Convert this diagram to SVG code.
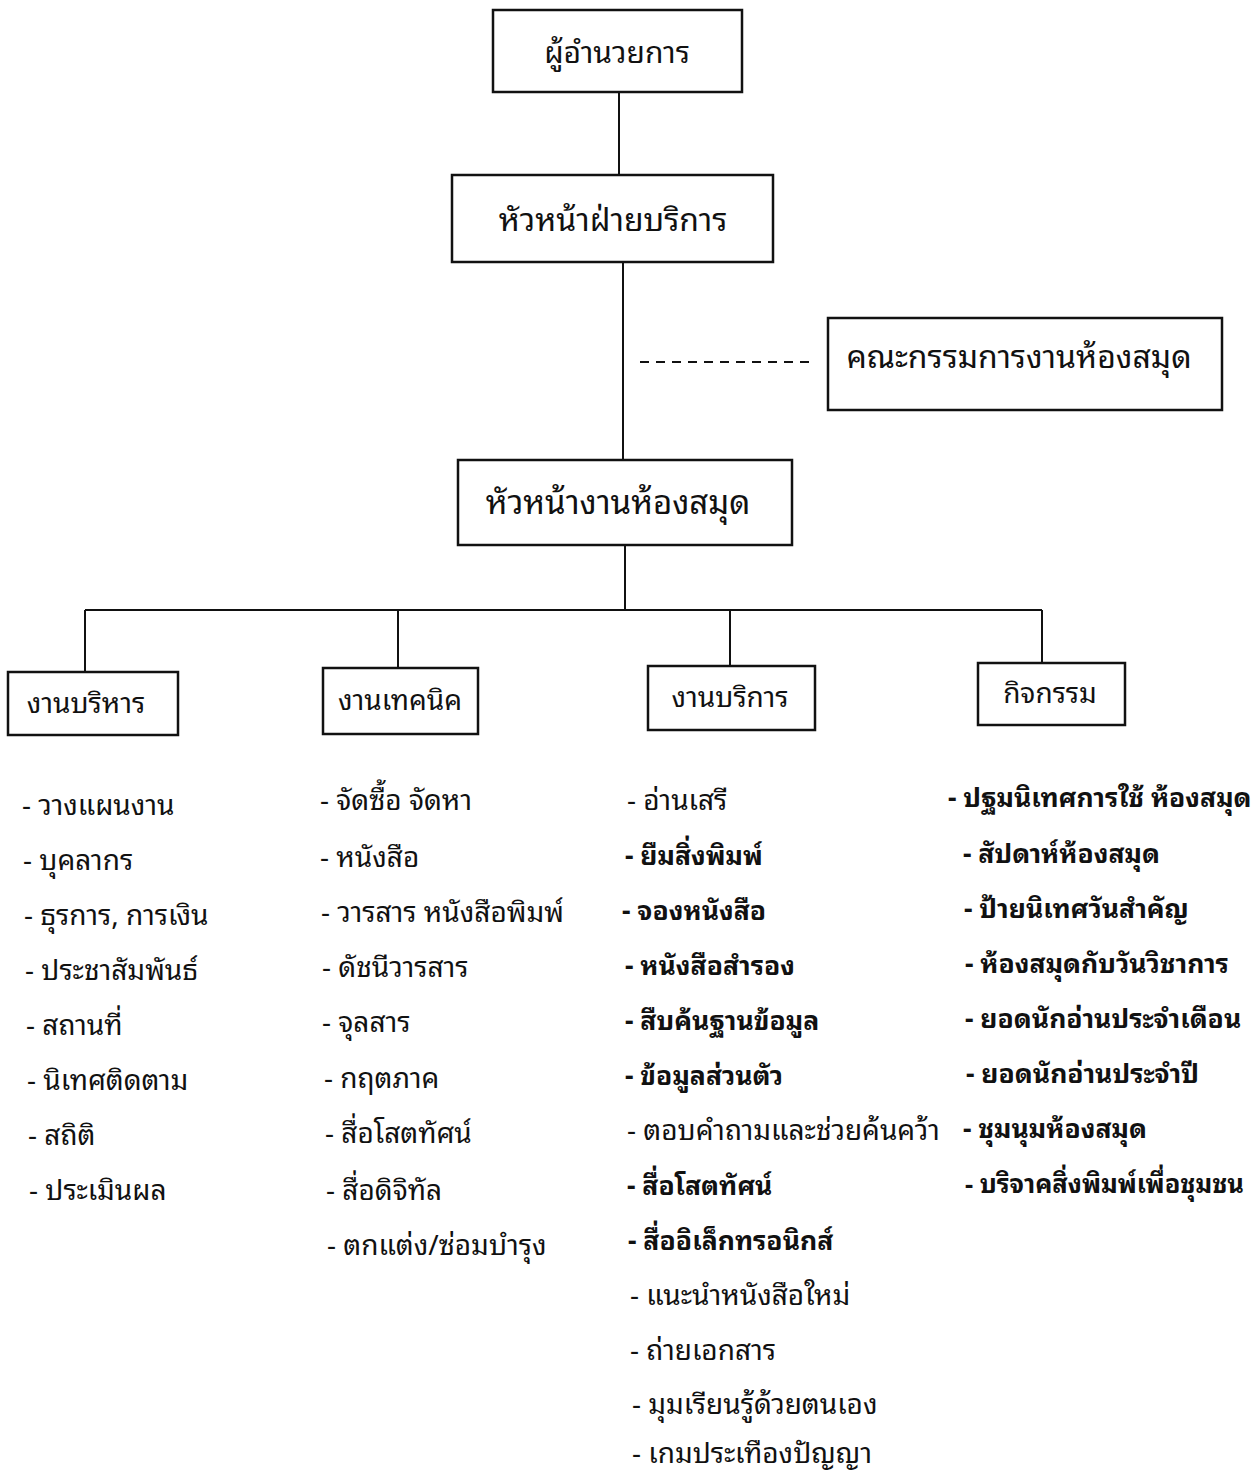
<svg xmlns="http://www.w3.org/2000/svg" width="1255" height="1474" viewBox="0 0 1255 1474">
<style>
text{font-family:"Noto Sans Thai Looped","Noto Sans Thai","Loma","Garuda","DejaVu Sans","Noto Sans",sans-serif;fill:#111}
.box{fill:#fff;stroke:#111;stroke-width:2.5}
.line{fill:none;stroke:#111;stroke-width:2}
.dash{fill:none;stroke:#111;stroke-width:2;stroke-dasharray:9 7}
.t1{font-size:32px;text-anchor:middle}
.t2{font-size:28px;text-anchor:middle}
.li{font-size:28px}
.b{font-weight:bold;font-size:26.5px}
</style>
<rect width="1255" height="1474" fill="#fff"/>
<g id="connectors">
<path class="line" d="M619 92V175"/>
<path class="line" d="M623 262V460"/>
<path class="dash" d="M640 362H810"/>
<path class="line" d="M625 545V610"/>
<path class="line" d="M85 610H1042"/>
<path class="line" d="M85 610V672"/>
<path class="line" d="M398 610V668"/>
<path class="line" d="M730 610V666"/>
<path class="line" d="M1042 610V663"/>
</g>
<g id="director"><rect class="box" x="493" y="10" width="249" height="82"/><text class="t1" x="617" y="63" style="font-size:30px">ผู้อำนวยการ</text></g>
<g id="head-service"><rect class="box" x="452" y="175" width="321" height="87"/><text class="t1" x="613" y="231">หัวหน้าฝ่ายบริการ</text></g>
<g id="committee"><rect class="box" x="828" y="318" width="394" height="92"/><text class="t1" x="1019" y="368">คณะกรรมการงานห้องสมุด</text></g>
<g id="head-library"><rect class="box" x="458" y="460" width="334" height="85"/><text class="t1" x="618" y="514" style="font-size:33px">หัวหน้างานห้องสมุด</text></g>
<g id="admin"><rect class="box" x="8" y="672" width="170" height="63"/><text class="t2" x="86" y="713">งานบริหาร</text></g>
<g id="technical"><rect class="box" x="323" y="668" width="155" height="66"/><text class="t2" x="400" y="710">งานเทคนิค</text></g>
<g id="service"><rect class="box" x="648" y="666" width="167" height="64"/><text class="t2" x="730" y="707">งานบริการ</text></g>
<g id="activity"><rect class="box" x="978" y="663" width="147" height="62"/><text class="t2" x="1050" y="703">กิจกรรม</text></g>
<g id="admin-list">
<text class="li" x="22" y="815">- วางแผนงาน</text>
<text class="li" x="23" y="870">- บุคลากร</text>
<text class="li" x="24" y="925">- ธุรการ, การเงิน</text>
<text class="li" x="25" y="980">- ประชาสัมพันธ์</text>
<text class="li" x="26" y="1035">- สถานที่</text>
<text class="li" x="27" y="1090">- นิเทศติดตาม</text>
<text class="li" x="28" y="1145">- สถิติ</text>
<text class="li" x="29" y="1200">- ประเมินผล</text>
</g>
<g id="technical-list">
<text class="li" x="320" y="810">- จัดซื้อ  จัดหา</text>
<text class="li" x="320" y="867">- หนังสือ</text>
<text class="li" x="321" y="922">- วารสาร หนังสือพิมพ์</text>
<text class="li" x="322" y="977">- ดัชนีวารสาร</text>
<text class="li" x="322" y="1032">- จุลสาร</text>
<text class="li" x="324" y="1088">- กฤตภาค</text>
<text class="li" x="325" y="1143">- สื่อโสตทัศน์</text>
<text class="li" x="326" y="1200">- สื่อดิจิทัล</text>
<text class="li" x="327" y="1255">- ตกแต่ง/ซ่อมบำรุง</text>
</g>
<g id="service-list">
<text class="li" x="627" y="810">- อ่านเสรี</text>
<text class="li b" x="625" y="865">- ยืมสิ่งพิมพ์</text>
<text class="li b" x="622" y="920">- จองหนังสือ</text>
<text class="li b" x="625" y="975">- หนังสือสำรอง</text>
<text class="li b" x="625" y="1030">- สืบค้นฐานข้อมูล</text>
<text class="li b" x="625" y="1085">- ข้อมูลส่วนตัว</text>
<text class="li" x="627" y="1140">- ตอบคำถามและช่วยค้นคว้า</text>
<text class="li b" x="627" y="1195">- สื่อโสตทัศน์</text>
<text class="li b" x="628" y="1250">- สื่ออิเล็กทรอนิกส์</text>
<text class="li" x="630" y="1305">- แนะนำหนังสือใหม่</text>
<text class="li" x="630" y="1360">- ถ่ายเอกสาร</text>
<text class="li" x="632" y="1414">- มุมเรียนรู้ด้วยตนเอง</text>
<text class="li" x="632" y="1463">- เกมประเทืองปัญญา</text>
</g>
<g id="activity-list">
<text class="li b" x="948" y="807">- ปฐมนิเทศการใช้ ห้องสมุด</text>
<text class="li b" x="963" y="863">- สัปดาห์ห้องสมุด</text>
<text class="li b" x="964" y="918">- ป้ายนิเทศวันสำคัญ</text>
<text class="li b" x="965" y="973">- ห้องสมุดกับวันวิชาการ</text>
<text class="li b" x="965" y="1028">- ยอดนักอ่านประจำเดือน</text>
<text class="li b" x="966" y="1083">- ยอดนักอ่านประจำปี</text>
<text class="li b" x="963" y="1138">- ชุมนุมห้องสมุด</text>
<text class="li b" x="965" y="1193" style="font-size:25.5px">- บริจาคสิ่งพิมพ์เพื่อชุมชน</text>
</g>
</svg>
